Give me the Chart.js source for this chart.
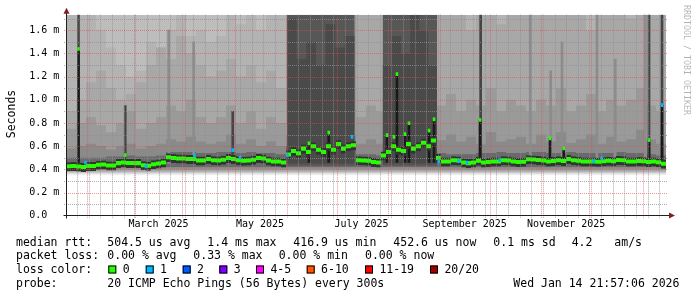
<!DOCTYPE html>
<html>
<head>
<meta charset="utf-8">
<script src="https://cdn.jsdelivr.net/npm/chart.js@4.4.1/dist/chart.umd.min.js"></script>
<style>
  html, body { margin: 0; padding: 0; background: #fff; }
  canvas { display: block; }
</style>
</head>
<body>
<canvas id="smoke" width="697" height="297"></canvas>
<script>
// x = days counted from 1 Jan 2025, y = round trip time in ms
const dayFrom = 18.4, dayTo = 379.0, yTop = 1.733;

const monthStarts = [31, 59, 90, 120, 151, 181, 212, 243, 273, 304, 334, 365];
const weekStarts = Array.from({length: 51}, (_, i) => 25 + 7 * i); // sundays
const labelDays = [74, 135, 196, 258, 319];
const monthLabels = ['March 2025', 'May 2025', 'July 2025', 'September 2025', 'November 2025'];
const yTicks = [0, 0.1, 0.2, 0.3, 0.4, 0.5, 0.6, 0.7, 0.8, 0.9, 1.0, 1.1, 1.2, 1.3, 1.4, 1.5, 1.6, 1.7];

// smoke, 60 columns (about 6 days each): upper edge of each grey layer
const smokeA = [1.733,1.733,1.733,1.6,1.45,1.3,1.2,1.25,1.5,1.45,
  1.6,1.733,1.55,1.6,1.5,1.55,1.733,1.65,1.733,1.6,
  1.733,1.733,1.733,1.733,1.733,1.733,1.733,1.733,1.733,1.733,
  1.733,1.733,1.733,1.733,1.733,1.733,1.733,1.733,1.733,1.733,
  1.733,1.733,1.733,1.733,1.733,1.733,1.733,1.733,1.733,1.733,
  1.733,1.733,1.733,1.733,1.733,1.733,1.733,1.733,1.733,1.733];
const smokeB = [0.9,1.0,1.15,1.25,1.1,1.0,1.05,1.15,1.3,1.45,
  1.35,1.55,1.4,1.3,1.2,1.25,1.35,1.2,1.3,1.15,
  1.25,1.1,1.733,1.733,1.733,1.733,1.733,1.733,1.733,1.733,
  1.733,1.733,1.733,1.733,1.733,1.733,1.733,1.733,1.733,1.733,
  1.6,1.733,1.733,1.65,1.733,1.733,1.733,1.733,1.733,1.733,
  1.733,1.733,1.6,1.733,1.733,1.733,1.7,1.733,1.733,1.733];
const smokeC = [0.75,0.8,0.85,0.78,0.72,0.8,0.9,0.75,0.8,0.85,
  0.95,0.9,1.0,0.85,0.8,0.85,0.95,0.8,0.9,0.75,
  0.85,0.8,1.733,1.733,1.733,1.733,1.733,1.733,1.733,0.85,
  0.95,0.9,1.733,1.733,1.733,1.733,1.733,0.95,1.05,0.9,
  1.0,0.95,1.1,0.9,1.0,0.95,0.9,1.0,0.95,1.1,
  0.9,0.95,1.05,0.9,1.0,0.95,1.0,1.1,0.95,0.9];
const smokeD = [0.58,0.6,0.62,0.6,0.57,0.6,0.62,0.58,0.6,0.62,
  0.66,0.64,0.68,0.64,0.62,0.64,0.7,0.62,0.66,0.6,
  0.64,0.6,0.7,0.7,0.7,0.7,0.7,0.7,0.7,0.62,
  0.66,0.62,0.7,0.7,0.7,0.7,0.7,0.65,0.7,0.64,
  0.68,0.62,0.72,0.64,0.66,0.68,0.62,0.7,0.64,0.72,
  0.63,0.66,0.7,0.62,0.68,0.64,0.66,0.74,0.66,0.62];
const smokeE = [0.5,0.5,0.5,0.5,0.51,0.51,0.52,0.51,0.51,0.52,
  0.55,0.55,0.55,0.54,0.54,0.55,0.55,0.54,0.55,0.54,
  0.54,0.53,0.6,0.6,0.6,0.6,0.6,0.6,0.6,0.53,
  0.53,0.52,0.6,0.6,0.6,0.6,0.6,0.54,0.53,0.53,
  0.53,0.54,0.54,0.55,0.54,0.54,0.55,0.55,0.54,0.54,
  0.55,0.54,0.54,0.54,0.54,0.55,0.54,0.54,0.53,0.52];

// high jitter periods
const darkFrom = [151.2, 208.7];
const darkTo = [191.9, 241.4];
const darkCoreDays = [151.2, 157.0, 162.8, 168.6, 174.4, 180.2, 186.0, 208.7, 214.2, 219.7, 225.2, 230.7, 236.2];
const darkCoreTops = [1.7, 1.35, 1.5, 1.3, 1.65, 1.45, 1.55, 1.3, 1.55, 1.4, 1.733, 1.6, 1.3];

// median rtt, 120 columns (about 3 days each)
const median = [0.428,0.43,0.425,0.422,0.431,0.431,0.44,0.443,0.434,0.434,
  0.455,0.46,0.457,0.457,0.455,0.436,0.432,0.445,0.452,0.46,
  0.505,0.5,0.495,0.494,0.49,0.49,0.478,0.478,0.49,0.48,
  0.478,0.485,0.5,0.49,0.48,0.475,0.478,0.485,0.5,0.495,
  0.478,0.47,0.468,0.46,0.53,0.56,0.54,0.58,0.55,0.6,
  0.57,0.55,0.6,0.57,0.62,0.58,0.6,0.61,0.48,0.478,
  0.475,0.465,0.46,0.52,0.55,0.6,0.57,0.56,0.62,0.58,
  0.6,0.63,0.6,0.65,0.5,0.47,0.47,0.48,0.478,0.46,
  0.455,0.46,0.475,0.46,0.465,0.47,0.47,0.48,0.478,0.47,
  0.465,0.466,0.488,0.486,0.482,0.478,0.47,0.474,0.48,0.474,
  0.49,0.48,0.475,0.47,0.468,0.47,0.466,0.472,0.476,0.472,
  0.482,0.48,0.47,0.468,0.474,0.472,0.465,0.47,0.462,0.45];

// single samples that stand out (value, packets lost)
const markDays = [25.9,30.1,54.0,66.5,95.6,118.6,123.0,151.5,164.4,176.3,190.3,211.3,215.5,217.3,222.1,224.5,236.6,239.6,242.4,254.4,259.4,267.2,279.2,309.3,317.5,335.5,340.4,368.8,376.6];
const markRtt = [1.437,0.457,0.523,0.425,0.52,0.566,0.5,0.52,0.624,0.716,0.68,0.695,0.68,1.22,0.704,0.797,0.733,0.83,0.47,0.47,0.457,0.825,0.48,0.667,0.581,0.47,0.495,0.652,0.954];
const markLoss = [0,1,0,1,1,1,1,1,0,0,1,0,0,0,0,0,0,0,1,1,1,0,1,0,0,1,1,0,1];

// columns where the smoke reaches far up
const darkSpikeDays = [25.9, 54.0, 118.6, 267.6, 368.8, 376.6];
const darkSpikeTops = [1.733, 0.95, 0.9, 1.733, 1.733, 1.733];
const greySpikeDays = [80.1, 95.1, 297.4, 309.7, 316.5, 337.5, 348.5, 366.6];
const greySpikeTops = [1.6, 1.5, 1.733, 1.25, 1.5, 1.733, 1.35, 1.733];
const coreDays = [25.9, 164.4, 176.3, 211.3, 217.3, 222.1, 224.5, 236.6, 239.6, 267.2, 309.3, 317.5, 368.8, 376.6];
const coreTops = [1.437, 0.624, 0.716, 0.695, 1.22, 0.704, 0.797, 0.733, 0.83, 0.825, 0.667, 0.581, 0.652, 0.954];

const lossColors = ['#26ff00', '#00b8ff', '#0059ff', '#7e00ff', '#ff00ff', '#ff5500', '#ff0000', '#a10000'];
const lossLabels = ['0', '1', '2', '3', '4-5', '6-10', '11-19', '20/20'];

const statRows = [
  [[16, 'median rtt:'], [107.3, '504.5 us avg'], [207.3, '1.4 ms max'], [293.3, '416.9 us min'], [393.3, '452.6 us now'], [493.3, '0.1 ms sd'], [571.7, '4.2'], [614.3, 'am/s']],
  [[16, 'packet loss:'], [107.3, '0.00 % avg'], [193.3, '0.33 % max'], [278.7, '0.00 % min'], [365, '0.00 % now']],
  [[16, 'loss color:']],
  [[16, 'probe:'], [107.3, '20 ICMP Echo Pings (56 Bytes) every 300s'], [513.3, 'Wed Jan 14 21:57:06 2026']]
];
const rowBase = [245.5, 259.3, 273, 286.8];
const boxX = [108.3, 145.7, 182.7, 219.3, 256, 306.7, 365, 430];

const gridGrey = 'rgba(143,143,143,0.75)';
const gridRed = 'rgba(222,79,79,0.6)';

const smokeStep = (dayTo - dayFrom) / smokeA.length;
const medStep = (dayTo - dayFrom) / median.length;

function stepPoints(tops) {
  const pts = tops.map((v, i) => ({x: dayFrom + i * smokeStep, y: v}));
  pts.push({x: dayTo, y: tops[tops.length - 1]});
  return pts;
}

function layer(tops, color, floor, order) {
  return {
    type: 'line', data: stepPoints(tops), stepped: true, borderWidth: 0, borderColor: 'transparent',
    pointRadius: 0, backgroundColor: color, fill: {value: floor}, order, xAxisID: 'x', yAxisID: 'y'
  };
}

function fadeFill(ctx) {
  const chart = ctx.chart;
  const y = chart.scales && chart.scales.y;
  if (!y || !chart.chartArea) return '#bdbdbd';
  const a = y.getPixelForValue(0.345), b = y.getPixelForValue(0.39);
  if (!isFinite(a) || !isFinite(b)) return '#bdbdbd';
  const g = chart.ctx.createLinearGradient(0, a, 0, b);
  g.addColorStop(0, '#ffffff');
  g.addColorStop(0.35, '#e4e4e4');
  g.addColorStop(0.7, '#cacaca');
  g.addColorStop(1, '#bdbdbd');
  return g;
}

const darkPts = [];
darkFrom.forEach((d, i) => {
  darkPts.push({x: d, y: yTop}, {x: darkTo[i], y: yTop}, {x: darkTo[i], y: null});
});
const corePts = [];
darkFrom.forEach((d, b) => {
  const cols = darkCoreDays.map((x, i) => ({x, y: darkCoreTops[i]})).filter(p => p.x >= d && p.x < darkTo[b]);
  cols.forEach(p => corePts.push(p));
  corePts.push({x: darkTo[b], y: cols[cols.length - 1].y}, {x: darkTo[b], y: null});
});

const bar = (data, color, thickness, order) => ({
  type: 'bar', data, backgroundColor: color, barThickness: thickness, grouped: false,
  borderWidth: 0, borderSkipped: false, order, xAxisID: 'x', yAxisID: 'y'
});

const datasets = [
  {type: 'line', data: [{x: dayFrom, y: yTop}, {x: dayTo, y: yTop}], borderWidth: 0, borderColor: 'transparent',
   pointRadius: 0, backgroundColor: fadeFill, fill: {value: 0.3}, order: 20, xAxisID: 'x', yAxisID: 'y'},
  layer(smokeA, '#b3b3b3', 0.375, 19),
  layer(smokeB, '#a8a8a8', 0.385, 18),
  layer(smokeC, '#9a9a9a', 0.395, 17),
  layer(smokeD, '#8a8a8a', 0.405, 16),
  layer(smokeE, '#6a6a6a', 0.42, 15),
  {type: 'line', data: darkPts, stepped: true, spanGaps: false, borderWidth: 0, borderColor: 'transparent',
   pointRadius: 0, backgroundColor: '#575757', fill: {value: 0.43}, order: 14, xAxisID: 'x', yAxisID: 'y'},
  {type: 'line', data: corePts, stepped: true, spanGaps: false, borderWidth: 0, borderColor: 'transparent',
   pointRadius: 0, backgroundColor: '#4a4a4a', fill: {value: 0.45}, order: 13, xAxisID: 'x', yAxisID: 'y'},
  bar(greySpikeDays.map((d, i) => ({x: d, y: [0.45, greySpikeTops[i]]})), '#8c8c8c', 2, 12),
  bar(darkSpikeDays.map((d, i) => ({x: d, y: [0.45, darkSpikeTops[i]]})), '#454545', 2, 11),
  bar(coreDays.map((d, i) => ({x: d, y: [0.46, coreTops[i]]})), '#1a1a1a', 2, 10),
  Object.assign(bar(median.map((m, i) => ({x: dayFrom + (i + 0.5) * medStep, y: [m - 0.042, m + 0.03]})), lossColors[0], 5, 9),
    {borderColor: '#333333', borderWidth: {top: 2, bottom: 3, left: 0, right: 0}}),
  bar(markDays.map((d, i) => ({x: d, y: [markRtt[i] - 0.013, markRtt[i] + 0.013]})), c => lossColors[markLoss[c.dataIndex]], 2, 8)
];

// rrdtool style dotted grid, drawn over the smoke
const dottedGrid = {
  id: 'dottedGrid',
  afterDatasetsDraw(chart) {
    const c = chart.ctx;
    const {left, right, top, bottom} = chart.chartArea;
    const xs = chart.scales.x, ys = chart.scales.y;
    const line = (x1, y1, x2, y2, color) => {
      c.strokeStyle = color;
      c.beginPath(); c.moveTo(x1, y1); c.lineTo(x2, y2); c.stroke();
    };
    c.save();
    c.lineWidth = 1;
    c.setLineDash([1, 1]);
    const minor = weekStarts.filter(d => !monthStarts.includes(d));
    minor.forEach(d => { const x = Math.round(xs.getPixelForValue(d)) + 0.5; line(x, top, x, bottom + 2, gridGrey); });
    yTicks.forEach(v => {
      if (v === 0 || Math.round(v * 10) % 2 === 0) return;
      const y = Math.round(ys.getPixelForValue(v)) + 0.5; line(left - 2, y, right + 2, y, gridGrey);
    });
    monthStarts.forEach(d => { const x = Math.round(xs.getPixelForValue(d)) + 0.5; line(x, top, x, bottom + 2, gridRed); });
    yTicks.forEach(v => {
      if (v === 0 || Math.round(v * 10) % 2 !== 0) return;
      const y = Math.round(ys.getPixelForValue(v)) + 0.5; line(left - 2, y, right + 2, y, gridRed);
    });
    c.restore();
  }
};

const overlay = {
  id: 'overlay',
  afterDraw(chart) {
    const c = chart.ctx;
    const {left, right, top, bottom} = chart.chartArea;
    const ax = Math.round(left) + 0.5, ay = Math.round(bottom) - 0.5;
    c.save();
    c.strokeStyle = '#1f1f1f';
    c.lineWidth = 1;
    c.beginPath();
    c.moveTo(ax, ay + 3); c.lineTo(ax, top - 3);
    c.moveTo(ax - 3, ay); c.lineTo(right + 5, ay);
    c.stroke();
    c.fillStyle = '#801f1f';
    c.beginPath();
    c.moveTo(ax, top - 7); c.lineTo(ax - 3, top - 1); c.lineTo(ax + 3, top - 1); c.closePath();
    c.moveTo(right + 9, ay); c.lineTo(right + 3, ay - 3); c.lineTo(right + 3, ay + 3); c.closePath();
    c.fill();

    c.fillStyle = '#000';
    c.font = '11.5px "DejaVu Sans Mono"';
    c.textBaseline = 'alphabetic';
    c.textAlign = 'left';
    statRows.forEach((row, r) => row.forEach(([x, t]) => c.fillText(t, x, rowBase[r])));
    boxX.forEach((x, i) => {
      c.fillStyle = lossColors[i];
      c.fillRect(x, 265.5, 8, 8);
      c.strokeStyle = '#000';
      c.strokeRect(x + 0.5, 266, 7, 7);
      c.fillStyle = '#000';
      c.fillText(lossLabels[i], x + 14.4, rowBase[2]);
    });

    c.save();
    c.translate(15, 114);
    c.rotate(-Math.PI / 2);
    c.textAlign = 'center';
    c.fillText('Seconds', 0, 0);
    c.restore();

    c.save();
    c.translate(684, 5);
    c.rotate(Math.PI / 2);
    c.font = '8.3px "DejaVu Sans Mono"';
    c.fillStyle = 'rgba(0,0,0,0.3)';
    c.textAlign = 'left';
    c.fillText('RRDTOOL / TOBI OETIKER', 0, 0);
    c.restore();
    c.restore();
  }
};

Chart.defaults.font.family = '"DejaVu Sans Mono", monospace';

new Chart(document.getElementById('smoke'), {
  type: 'line',
  data: {datasets},
  options: {
    responsive: false,
    animation: false,
    devicePixelRatio: 1,
    layout: {padding: {left: 0, top: 14.7, right: 31, bottom: 61.3}},
    plugins: {legend: {display: false}, tooltip: {enabled: false}},
    scales: {
      x: {
        type: 'linear', position: 'bottom', min: dayFrom, max: dayTo, weight: 0, offset: false,
        afterFit: s => { s.height = 0; },
        ticks: {display: false},
        grid: {display: false, offset: false, drawTicks: false},
        border: {display: false}
      },
      xl: {
        type: 'linear', position: 'bottom', min: dayFrom, max: dayTo, weight: 1, offset: false,
        afterFit: s => { s.height = 20; },
        afterBuildTicks: s => { s.ticks = labelDays.map(v => ({value: v})); },
        ticks: {autoSkip: false, maxRotation: 0, padding: 2.5, color: '#000', font: {size: 10},
                callback: (v, i) => monthLabels[i]},
        grid: {display: false, drawTicks: false, offset: false},
        border: {display: false}
      },
      y: {
        min: 0, max: yTop,
        afterFit: s => { s.width = 66; },
        afterBuildTicks: s => { s.ticks = yTicks.map(v => ({value: v})); },
        ticks: {
          autoSkip: false, padding: 3.7, color: '#000', font: {size: 10},
          callback: v => {
            const t = Math.round(v * 10);
            if (t % 2) return '';
            return t === 0 ? '0.0  ' : v.toFixed(1) + ' m';
          }
        },
        grid: {display: false, drawTicks: true, tickLength: 3},
        border: {display: false}
      }
    }
  },
  plugins: [dottedGrid, overlay]
});
</script>
</body>
</html>
